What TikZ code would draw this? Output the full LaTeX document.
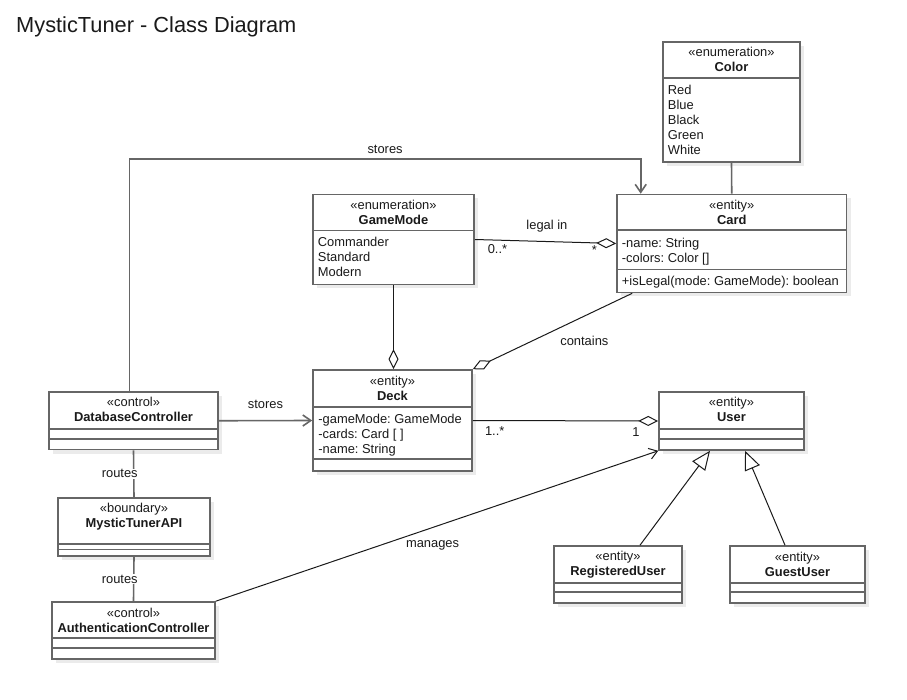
\documentclass[tikz,border=0pt]{standalone}
\usepackage{fontspec}
\setmainfont{Liberation Sans}
\usetikzlibrary{arrows.meta,shadows}
\definecolor{boxgray}{RGB}{102,102,102}
\definecolor{ink}{RGB}{26,26,26}

\begin{document}
\begin{tikzpicture}[x=1pt, y=-1pt,
    font=\fontsize{12.9}{15}\selectfont\frenchspacing, text=ink,
    classbox/.style={draw=boxgray, line width=1.6pt, fill=white, inner sep=0pt,
      drop shadow={shadow xshift=4pt, shadow yshift=-4pt, fill=black!8, opacity=1}},
    compart/.style={draw=boxgray, line width=1.6pt},
    hdr/.style={align=center, inner sep=0pt},
    attrs/.style={align=left, anchor=north west, inner sep=0pt},
    link/.style={draw=ink, line width=1pt},
    heavylink/.style={draw=boxgray, line width=1.6pt},
    navarrow/.style={-{Straight Barb[length=8pt, width=11pt]}},
    aggr/.style={-{Diamond[open, length=20pt, width=10pt]}},
    inherit/.style={-{Triangle[open, length=19pt, width=16pt]}}]

    % Page
    \path[fill=white] (0,0) rectangle (907,700);
    \useasboundingbox (0,0) rectangle (907,700);

    % Title
    \node[anchor=west, inner sep=0pt, font=\fontsize{21.8}{26}\selectfont] (title) at (16,26.5) {MysticTuner - Class Diagram};

    % Color (enumeration)
    \node[classbox, minimum width=137pt, minimum height=120pt] (color) at (731.5,102) {};
    \node[hdr] (color-h) at ([yshift=-18.5pt]color.north) {«enumeration»\\\textbf{Color}};
    \draw[compart] ([yshift=-37pt]color.north west) -- ([yshift=-37pt]color.north east);
    \node[attrs] (color-a) at ([xshift=5.5pt, yshift=-43.5pt]color.north west) {Red\\Blue\\Black\\Green\\White};

    % Card
    \node[classbox, minimum width=229.5pt, minimum height=98pt] (card) at (731.75,243.5) {};
    \node[hdr] (card-h) at ([yshift=-18.25pt]card.north) {«entity»\\\textbf{Card}};
    \draw[compart] ([yshift=-36.5pt]card.north west) -- ([yshift=-36.5pt]card.north east);
    \draw[compart] ([yshift=-76pt]card.north west) -- ([yshift=-76pt]card.north east);
    \node[attrs] (card-a) at ([xshift=5.5pt, yshift=-44pt]card.north west) {-name: String\\-colors: Color []};
    \node[attrs] (card-o) at ([xshift=5.5pt, yshift=-82pt]card.north west) {+isLegal(mode: GameMode): boolean};

    % GameMode (enumeration)
    \node[classbox, minimum width=161pt, minimum height=90pt] (gamemode) at (393.5,239.5) {};
    \node[hdr] (gamemode-h) at ([yshift=-18.5pt]gamemode.north) {«enumeration»\\\textbf{GameMode}};
    \draw[compart] ([yshift=-37pt]gamemode.north west) -- ([yshift=-37pt]gamemode.north east);
    \node[attrs] (gamemode-a) at ([xshift=5.5pt, yshift=-43.5pt]gamemode.north west) {Commander\\Standard\\Modern};

    % Deck
    \node[classbox, minimum width=159pt, minimum height=101pt] (deck) at (392.5,420.5) {};
    \node[hdr] (deck-h) at ([yshift=-19pt]deck.north) {«entity»\\\textbf{Deck}};
    \draw[compart] ([yshift=-38pt]deck.north west) -- ([yshift=-38pt]deck.north east);
    \draw[compart] ([yshift=-90pt]deck.north west) -- ([yshift=-90pt]deck.north east);
    \node[attrs] (deck-a) at ([xshift=6pt, yshift=-44.5pt]deck.north west) {-gameMode: GameMode\\-cards: Card [ ]\\-name: String};

    % DatabaseController
    \node[classbox, minimum width=169pt, minimum height=57.5pt] (dbc) at (133.5,420.75) {};
    \node[hdr] (dbc-h) at ([yshift=-18.5pt]dbc.north) {«control»\\\textbf{DatabaseController}};
    \draw[compart] ([yshift=-37.5pt]dbc.north west) -- ([yshift=-37.5pt]dbc.north east);
    \draw[compart] ([yshift=-47.5pt]dbc.north west) -- ([yshift=-47.5pt]dbc.north east);

    % MysticTunerAPI
    \node[classbox, minimum width=152pt, minimum height=58pt] (api) at (134,527) {};
    \node[hdr] (api-h) at ([yshift=-19pt]api.north) {«boundary»\\\textbf{MysticTunerAPI}};
    \draw[compart] ([yshift=-46.5pt]api.north west) -- ([yshift=-46.5pt]api.north east);
    \draw[compart] ([yshift=-52.3pt]api.north west) -- ([yshift=-52.3pt]api.north east);

    % AuthenticationController
    \node[classbox, minimum width=163pt, minimum height=57pt] (auth) at (133.5,630.5) {};
    \node[hdr] (auth-h) at ([yshift=-18.8pt]auth.north) {«control»\\\textbf{AuthenticationController}};
    \draw[compart] ([yshift=-37pt]auth.north west) -- ([yshift=-37pt]auth.north east);
    \draw[compart] ([yshift=-47pt]auth.north west) -- ([yshift=-47pt]auth.north east);

    % User
    \node[classbox, minimum width=145pt, minimum height=58pt] (user) at (731.5,421) {};
    \node[hdr] (user-h) at ([yshift=-18.2pt]user.north) {«entity»\\\textbf{User}};
    \draw[compart] ([yshift=-38pt]user.north west) -- ([yshift=-38pt]user.north east);
    \draw[compart] ([yshift=-48pt]user.north west) -- ([yshift=-48pt]user.north east);

    % RegisteredUser
    \node[classbox, minimum width=128pt, minimum height=57pt] (reg) at (618,574.5) {};
    \node[hdr] (reg-h) at ([yshift=-19pt]reg.north) {«entity»\\\textbf{RegisteredUser}};
    \draw[compart] ([yshift=-38pt]reg.north west) -- ([yshift=-38pt]reg.north east);
    \draw[compart] ([yshift=-47pt]reg.north west) -- ([yshift=-47pt]reg.north east);

    % GuestUser
    \node[classbox, minimum width=135pt, minimum height=57pt] (guest) at (797.5,574.5) {};
    \node[hdr] (guest-h) at ([yshift=-19pt]guest.north) {«entity»\\\textbf{GuestUser}};
    \draw[compart] ([yshift=-38pt]guest.north west) -- ([yshift=-38pt]guest.north east);
    \draw[compart] ([yshift=-47pt]guest.north west) -- ([yshift=-47pt]guest.north east);

    % Connectors
    \draw[heavylink] (color.south) -- (card.north);
    \draw[heavylink, navarrow] ([xshift=-4pt]dbc.north) -- ++(0,-232) -| node[pos=0.25, yshift=10pt] (stores1) {stores} ([xshift=24.5pt]card.north west);
    \draw[link, aggr] (gamemode.east) -- node[pos=0.51, yshift=15pt] (legal) {legal in}
        node[pos=0.16, yshift=-8.5pt] (legal-m1) {0..*} node[pos=0.846, yshift=-7pt] (legal-m2) {*} (card.west);
    \draw[link, aggr] (gamemode.south) -- (gamemode.south |- deck.north);
    \draw[link, aggr] ([xshift=16pt]card.south west) -- node[pos=0.3, yshift=-25pt] (contains) {contains} (deck.north east);
    \draw[heavylink, navarrow] (dbc.east) -- node[yshift=16.5pt] (stores2) {stores} (deck.west);
    \draw[link, aggr] (deck.east) -- node[pos=0.118, yshift=-11pt] (owns-m1) {1..*} node[pos=0.88, yshift=-11pt] (owns-m2) {1} (user.west);
    \draw[heavylink] (dbc.south) -- node[fill=white, inner sep=1pt, xshift=-14pt] (routes1) {routes} (api.north);
    \draw[heavylink] (api.south) -- node[fill=white, inner sep=1pt, xshift=-14pt] (routes2) {routes} (auth.north);
    \draw[link, navarrow] (auth.north east) -- node[pos=0.49, yshift=-18pt] (manages) {manages} (user.south west);
    \draw[link, inherit] ([xshift=22pt]reg.north) -- ([xshift=-21.5pt]user.south);
    \draw[link, inherit] ([xshift=-12.5pt]guest.north) -- ([xshift=13.5pt]user.south);
\end{tikzpicture}
\end{document}
